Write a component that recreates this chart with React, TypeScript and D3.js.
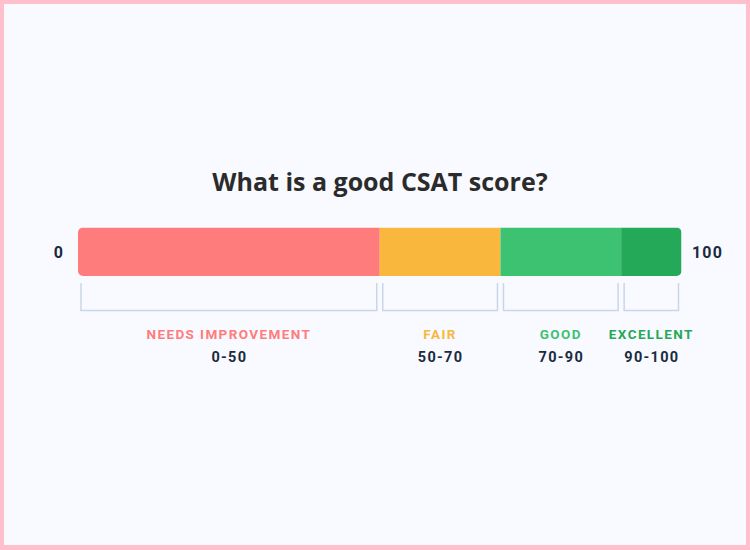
import React from "react";
import * as d3 from "d3";

const categories = ["NEEDS IMPROVEMENT", "FAIR", "GOOD", "EXCELLENT"];
const starts = [0, 50, 70, 90];
const ends = [50, 70, 90, 100];
const rangeLabels = ["0-50", "50-70", "70-90", "90-100"];
const barColors = ["#ff7c7c", "#f9b73e", "#3dc272", "#23a957"];
const labelColors = ["#ff7c7c", "#f9b73e", "#3dc272", "#23a957"];
const axisMin = "0";
const axisMax = "100";
const title = "What is a good CSAT score?";

const W = 750;
const H = 550;

export default function App() {
  const x = d3.scaleLinear().domain([0, 100]).range([78, 681.5]);
  const barTop = 227.5;
  const barH = 48.5;
  const bTop = 283;
  const bBot = 310.5;
  const clipId = "barclip";
  return (
    <svg
      width={W}
      height={H}
      style={{ position: "absolute", left: 0, top: 0 }}
    >
      <rect x={0} y={0} width={W} height={H} fill="#ffc0cb" />
      <rect x={4} y={4} width={W - 8} height={H - 9} fill="#f8faff" />
      <text
        x={380}
        y={191}
        textAnchor="middle"
        fontFamily="'Open Sans', sans-serif"
        fontWeight={700}
        fontSize={25}
        fill="#2b2b2b"
      >
        {title}
      </text>
      <defs>
        <clipPath id={clipId}>
          <rect x={x(0)} y={barTop} width={x(100) - x(0)} height={barH} rx={5} ry={5} />
        </clipPath>
      </defs>
      <g clipPath={`url(#${clipId})`}>
        {categories.map((c, i) => (
          <rect
            key={c}
            x={x(starts[i])}
            y={barTop}
            width={x(ends[i]) - x(starts[i])}
            height={barH}
            fill={barColors[i]}
          />
        ))}
      </g>
      <text
        x={x(0) - 19}
        y={barTop + barH / 2 + 6}
        textAnchor="middle"
        fontFamily="Roboto, sans-serif"
        fontWeight={700}
        fontSize={16}
        letterSpacing={1.2}
        fill="#1b2b3e"
      >
        {axisMin}
      </text>
      <text
        x={x(100) + 26}
        y={barTop + barH / 2 + 6}
        textAnchor="middle"
        fontFamily="Roboto, sans-serif"
        fontWeight={700}
        fontSize={16}
        letterSpacing={1.2}
        fill="#1b2b3e"
      >
        {axisMax}
      </text>
      {categories.map((c, i) => {
        const l = x(starts[i]) + 3;
        const r = x(ends[i]) - 3;
        const cx = (l + r) / 2;
        return (
          <g key={c}>
            <path
              d={`M${l},${bTop} V${bBot} H${r} V${bTop}`}
              fill="none"
              stroke="#c9d6ea"
              strokeWidth={1.5}
            />
            <text
              x={cx}
              y={338.5}
              textAnchor="middle"
              fontFamily="Roboto, sans-serif"
              fontWeight={700}
              fontSize={13.5}
              letterSpacing={1.4}
              fill={labelColors[i]}
            >
              {c}
            </text>
            <text
              x={cx + 0.5}
              y={361.5}
              textAnchor="middle"
              fontFamily="Roboto, sans-serif"
              fontWeight={700}
              fontSize={14.5}
              letterSpacing={1.3}
              fill="#1b2b3e"
            >
              {rangeLabels[i]}
            </text>
          </g>
        );
      })}
    </svg>
  );
}
